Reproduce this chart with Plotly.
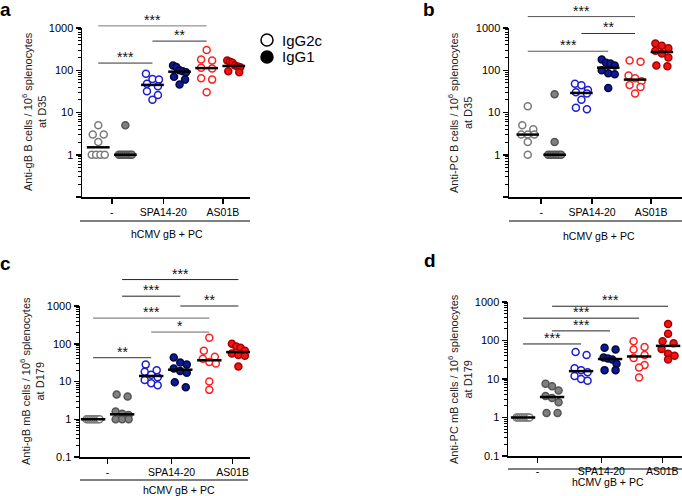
import numpy as np
import plotly.graph_objects as go

W, H = 682, 496
FONT = "Arial, Liberation Sans, Helvetica, sans-serif"

# ---------------- data ----------------
x_tick_labels = ["-", "SPA14-20", "AS01B"]
series_names = ["IgG2c", "IgG1"]
y_tick_vals = [0.1, 1, 10, 100, 1000]

# panel a : anti-gB B cells, D35
a_g2c_none = [5, 3, 3, 2, 1, 1, 1, 1]
a_g1_none = [5, 1, 1, 1, 1, 1, 1, 1]
a_g2c_spa = [83, 62, 60, 48, 42, 32, 26, 20]
a_g1_spa = [130, 120, 100, 95, 90, 70, 60, 46]
a_g2c_as01 = [300, 180, 170, 115, 110, 65, 60, 30]
a_g1_as01 = [170, 160, 150, 130, 122, 118, 95, 90]

# panel b : anti-PC B cells, D35
b_g2c_none = [14, 5, 4, 3, 3, 3, 2, 1]
b_g1_none = [27, 2, 1, 1, 1, 1, 1, 1]
b_g2c_spa = [48, 44, 34, 30, 28, 20, 13, 12]
b_g1_spa = [180, 150, 145, 130, 100, 85, 80, 38]
b_g2c_as01 = [170, 160, 75, 65, 55, 45, 40, 28]
b_g1_as01 = [430, 380, 330, 290, 250, 200, 130, 125]

# panel c : anti-gB mB cells, D179
c_g2c_none = [1, 1, 1, 1, 1, 1, 1, 1]
c_g1_none = [4.5, 4, 1.6, 1.4, 1.3, 1.0, 1.0, 1.0]
c_g2c_spa = [28, 20, 18, 15, 13, 11, 9, 8]
c_g1_spa = [43, 32, 28, 22, 19, 17, 9.5, 7]
c_g2c_as01 = [145, 65, 45, 40, 33, 30, 10, 6]
c_g1_as01 = [100, 85, 78, 65, 55, 50, 48, 25]

# panel d : anti-PC mB cells, D179
d_g2c_none = [1, 1, 1, 1, 1, 1, 1, 1]
d_g1_none = [7.5, 6.5, 5, 3.6, 3.2, 2.5, 1.3, 1.3]
d_g2c_spa = [50, 42, 19, 17, 15, 12, 10, 9]
d_g1_spa = [65, 58, 36, 34, 32, 25, 17, 17]
d_g2c_as01 = [95, 68, 58, 42, 35, 23, 20, 11]
d_g1_as01 = [270, 150, 95, 85, 60, 45, 40, 32]

# ---------------- styles ----------------
GROUP_STYLE = [
    dict(color="white", line="#7a7a7a"),      # IgG2c -
    dict(color="#808080", line="#555555"),    # IgG1 -
    dict(color="white", line="#1c1cd6"),      # IgG2c SPA
    dict(color="#0d1a96", line="#05083d"),    # IgG1 SPA
    dict(color="white", line="#ff1f1f"),      # IgG2c AS01B
    dict(color="#f21414", line="#a80000"),    # IgG1 AS01B
]

panels = [
    dict(key="a", groups=[a_g2c_none, a_g1_none, a_g2c_spa, a_g1_spa, a_g2c_as01, a_g1_as01],
         ytitle="Anti-gB B cells / 10<sup>6</sup> splenocytes<br>at D35",
         xdom=(82, 250), ydom=(28, 197), xr=(-0.6, 5.6), ticks=[0.5, 2.4, 4.6], label01=False,
         bars=[(0, 4, 3.05, "***", "#7a7a7a"), (2, 4, 2.69, "**", "#333333"), (0, 2, 2.17, "***", "#333333")],
         ytitle_pos=(34, 112), group_line=(80, 250, 221), group_lab=(167, 234), letter=(5, 10)),
    dict(key="b", groups=[b_g2c_none, b_g1_none, b_g2c_spa, b_g1_spa, b_g2c_as01, b_g1_as01],
         ytitle="Anti-PC B cells / 10<sup>6</sup> splenocytes<br>at D35",
         xdom=(509, 682), ydom=(28, 197), xr=(-0.7, 5.75), ticks=[0.5, 2.4, 4.6], label01=False,
         bars=[(0, 4, 3.27, "***", "#555555"), (2, 4, 2.87, "**", "#333333"), (0, 3, 2.45, "***", "#555555")],
         ytitle_pos=(460, 112), group_line=(509, 682, 221), group_lab=(599, 236), letter=(429, 10)),
    dict(key="c", groups=[c_g2c_none, c_g1_none, c_g2c_spa, c_g1_spa, c_g2c_as01, c_g1_as01],
         ytitle="Anti-gB mB cells / 10<sup>6</sup> splenocytes<br>at D179",
         xdom=(80, 250), ydom=(306, 457), xr=(-0.45, 5.4), ticks=[0.5, 2.7, 4.8], label01=True,
         bars=[(1, 5, 3.70, "***", "#222222"), (1, 3, 3.26, "***", "#222222"), (3, 5, 3.0, "**", "#222222"),
               (0, 4, 2.68, "***", "#666666"), (2, 4, 2.31, "*", "#666666"), (0, 2, 1.63, "**", "#333333")],
         ytitle_pos=(32, 381), group_line=(80, 248, 480), group_lab=(179, 490), letter=(5, 263)),
    dict(key="d", groups=[d_g2c_none, d_g1_none, d_g2c_spa, d_g1_spa, d_g2c_as01, d_g1_as01],
         ytitle="Anti-PC mB cells / 10<sup>6</sup> splenocytes<br>at D179",
         xdom=(508, 682), ydom=(302, 456), xr=(-0.52, 5.48), ticks=[0.5, 2.7, 4.8], label01=True,
         bars=[(1, 5, 2.89, "***", "#222222"), (0, 4, 2.58, "***", "#222222"), (1, 3, 2.25, "***", "#222222"),
               (0, 2, 1.91, "***", "#222222")],
         ytitle_pos=(460, 379), group_line=(508, 682, 469), group_lab=(608, 482), letter=(430, 260)),
]


def swarm(vals, unit_px, dec_px, diam=8.0, gap=11.0, maxspan=13.0):
    order = sorted(range(len(vals)), key=lambda k: -vals[k])
    rows = []
    for k in order:
        y = np.log10(vals[k]) * dec_px
        if rows and abs(rows[-1][0] - y) < diam * 0.9:
            rows[-1][1].append(k)
        else:
            rows.append([y, [k]])
    off = [0.0] * len(vals)
    for _, ks in rows:
        n = len(ks)
        if n == 1:
            continue
        g = min(gap, maxspan / (n - 1))
        for j, k in enumerate(ks):
            off[k] = (j - (n - 1) / 2) * g / unit_px
    return off


fig = go.Figure()
shapes = []
annotations = []

for pi, p in enumerate(panels):
    sfx = "" if pi == 0 else str(pi + 1)
    xa, ya = "x" + sfx, "y" + sfx
    x0, x1 = p["xdom"]
    ytop, ybot = p["ydom"]
    r0, r1 = p["xr"]
    unit_px = (x1 - x0) / (r1 - r0)
    dec_px = (ybot - ytop) / 4.0

    def to_paper(xd, ly, x0=x0, x1=x1, r0=r0, r1=r1, ytop=ytop, ybot=ybot):
        xp = x0 + (xd - r0) / (r1 - r0) * (x1 - x0)
        yp = ybot + (ly + 1) / 4.0 * (ytop - ybot)
        return xp / W, 1 - yp / H

    for gi, vals in enumerate(p["groups"]):
        st = GROUP_STYLE[gi]
        off = swarm(vals, unit_px, dec_px)
        fig.add_trace(go.Scatter(
            x=[gi + o for o in off], y=vals, mode="markers", xaxis=xa, yaxis=ya,
            showlegend=False, cliponaxis=False,
            marker=dict(size=7, color=st["color"], line=dict(color=st["line"], width=1.5)),
        ))
    for gi, vals in enumerate(p["groups"]):
        med = float(np.median(vals))
        fig.add_trace(go.Scatter(
            x=[gi - 0.42, gi + 0.42], y=[med, med], mode="lines", xaxis=xa, yaxis=ya,
            showlegend=False, line=dict(color="black", width=2.5),
        ))

    ax = dict(domain=[x0 / W, x1 / W], range=list(p["xr"]), anchor=ya,
              showline=True, linecolor="black", linewidth=1.5, ticks="outside",
              ticklen=5, tickwidth=1.5, tickcolor="black", tickvals=p["ticks"],
              ticktext=x_tick_labels, tickfont=dict(size=10.5, color="black", family=FONT),
              showgrid=False, zeroline=False, automargin=False)
    minor_vals = [m * 10.0 ** e for e in range(-1, 3) for m in range(2, 10)]
    ytext = [("0.1" if p["label01"] else "")] + ["1", "10", "100", "1000"]
    ay = dict(domain=[1 - ybot / H, 1 - ytop / H], type="log", range=[-1, 3], anchor=xa,
              showline=True, linecolor="black", linewidth=1.5, ticks="outside",
              ticklen=5, tickwidth=1.5, tickcolor="black", tickvals=y_tick_vals,
              ticktext=ytext, tickfont=dict(size=11, color="black", family=FONT),
              minor=dict(tickvals=minor_vals, ticks="outside", ticklen=3, tickwidth=1, tickcolor="black"),
              showgrid=False, zeroline=False, automargin=False)
    fig.update_layout(**{"xaxis" + sfx: ax, "yaxis" + sfx: ay})

    # significance bars
    for g1, g2, ly, lab, col in p["bars"]:
        xa0, yp = to_paper(g1, ly)
        xa1, _ = to_paper(g2, ly)
        shapes.append(dict(type="line", xref="paper", yref="paper", x0=xa0, x1=xa1, y0=yp, y1=yp,
                           line=dict(color=col, width=1)))
        annotations.append(dict(xref="paper", yref="paper", x=(xa0 + xa1) / 2, y=yp, text=lab,
                                showarrow=False, xanchor="center", yanchor="bottom", yshift=-4,
                                font=dict(size=14, color="#111111", family=FONT)))

    # group bracket line + label
    gx0, gx1, gy = p["group_line"]
    shapes.append(dict(type="line", xref="paper", yref="paper", x0=gx0 / W, x1=gx1 / W,
                       y0=1 - gy / H, y1=1 - gy / H, line=dict(color="black", width=1)))
    lx, ly_ = p["group_lab"]
    annotations.append(dict(xref="paper", yref="paper", x=lx / W, y=1 - ly_ / H, text="hCMV gB + PC",
                            showarrow=False, xanchor="center", yanchor="middle",
                            font=dict(size=10.5, color="black", family=FONT)))
    # y title
    tx, ty = p["ytitle_pos"]
    annotations.append(dict(xref="paper", yref="paper", x=tx / W, y=1 - ty / H, text=p["ytitle"],
                            showarrow=False, textangle=-90, xanchor="center", yanchor="middle",
                            font=dict(size=11, color="#222222", family=FONT)))
    # panel letter
    lx, ly_ = p["letter"]
    annotations.append(dict(xref="paper", yref="paper", x=lx / W, y=1 - ly_ / H, text="<b>%s</b>" % p["key"],
                            showarrow=False, xanchor="center", yanchor="middle",
                            font=dict(size=19, color="black", family=FONT)))

# legend (drawn manually)
leg = [(series_names[0], 40, "white"), (series_names[1], 57, "black")]
for name, yc, fill in leg:
    r = 6
    shapes.append(dict(type="circle", xref="paper", yref="paper",
                       x0=(267 - r) / W, x1=(267 + r) / W, y0=1 - (yc + r) / H, y1=1 - (yc - r) / H,
                       fillcolor=fill, line=dict(color="black", width=1.5)))
    annotations.append(dict(xref="paper", yref="paper", x=280 / W, y=1 - yc / H, text=name,
                            showarrow=False, xanchor="left", yanchor="middle",
                            font=dict(size=15, color="black", family=FONT)))

fig.update_layout(width=W, height=H, autosize=False, margin=dict(l=0, r=0, t=0, b=0, autoexpand=False),
                  paper_bgcolor="white", plot_bgcolor="white", shapes=shapes,
                  annotations=annotations, showlegend=False, font=dict(family=FONT))
fig.write_html("out.html", config={"displayModeBar": False, "staticPlot": True},
               post_script="document.body.style.margin='0';document.body.style.overflow='hidden';")
